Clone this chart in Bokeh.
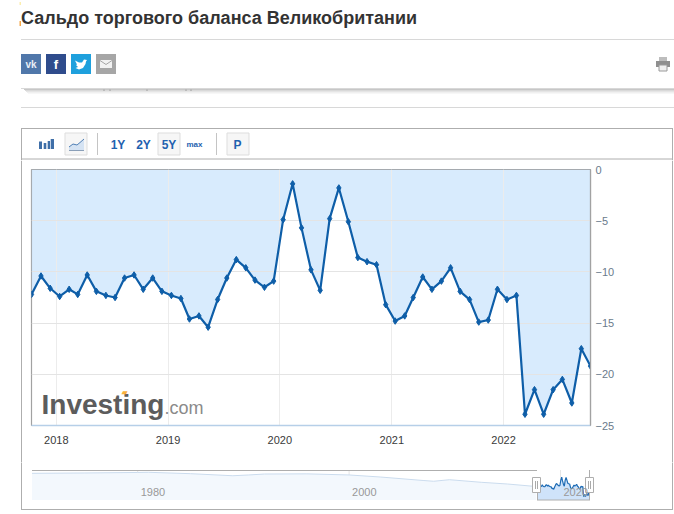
from datetime import datetime
from bokeh.plotting import figure
from bokeh.layouts import column, row
from bokeh.embed import file_html
from bokeh.resources import INLINE
from bokeh.core.properties import value
from bokeh.models import Range1d, FixedTicker, DatetimeTickFormatter, Label

# ---------- data ----------
TITLE = "Сальдо торгового баланса Великобритании"
balance = [
    -12.2, -10.4, -11.6, -12.4, -11.7, -12.2, -10.3, -11.9, -12.3, -12.5, -10.6, -10.3,
    -11.7, -10.6, -11.9, -12.3, -12.6, -14.6, -14.3, -15.4, -12.7, -10.6, -8.8, -9.6,
    -10.8, -11.5, -10.9, -4.9, -1.4, -5.7, -9.8, -11.8, -4.8, -1.8, -5.1, -8.6,
    -9.0, -9.3, -13.2, -14.8, -14.3, -12.5, -10.5, -11.7, -10.9, -9.6, -11.9, -12.7,
    -14.9, -14.7, -11.7, -12.7, -12.3, -23.9, -21.5, -23.9, -21.5, -20.5, -22.8, -17.5, -19.2,
]
first_year, first_month = 2017, 10
dates = [datetime(first_year + (first_month - 1 + i) // 12, (first_month - 1 + i) % 12 + 1, 12)
         for i in range(len(balance))]
x_tick_years = [2018, 2019, 2020, 2021, 2022]
y_ticks = [0, -5, -10, -15, -20, -25]

history_years = [1970, 1975, 1980, 1981, 1985, 1989, 1990.5, 1992, 1996, 2000, 2003, 2007, 2008, 2009.5, 2012.5, 2015, 2017.7]
history_values = [3.1, 3.5, 4.1, 4.3, 2.7, 0.3, 1.2, 2.3, 2.5, 1.2, -1.2, -5.2, -6.1, -4.3, -7.3, -9.3, -12.2]
nav_tick_years = [1980, 2000, 2020]

FONT = value("Liberation Sans")
BLUE = "#1f62b0"
GREY = "#aeaeae"

# ---------- header: x/y ranges are page pixels ----------
head = figure(width=674, height=160, x_range=Range1d(0.5, 674.5), y_range=Range1d(160.5, 0.5), frame_align=False,
              output_backend="svg", toolbar_location=None, min_border=0, outline_line_color=None)
head.axis.visible = False
head.grid.visible = False

head.text([21], [17.5], text=[TITLE], text_font=FONT, text_font_size="18px", text_font_style="bold",
          text_color="#333333", text_baseline="alphabetic", text_align="left")
head.quad(left=[19.5], right=[21], top=[21], bottom=[26], fill_color="#f5a84a", line_color=None)
head.quad(left=[19.5], right=[21], top=[2], bottom=[5], fill_color="#fbeeb0", line_color=None)

for y in (39.5, 88.5, 107.5):
    head.segment(21, y, 675, y, line_color="#d8d8d8", line_width=1)
for i, a in enumerate((0.22, 0.15, 0.10, 0.06, 0.03)):
    head.segment(24 + i, 89.5 + i, 675, 89.5 + i, line_color="#000000", line_alpha=a, line_width=1)
head.quad(left=[103, 109, 146, 185, 190], right=[105, 111, 148, 187, 192], top=[89] * 5, bottom=[91] * 5,
          fill_color="#bbbbbb", line_color=None)

# share buttons
btn_x = [21, 46, 71, 96]
btn_c = ["#5077aa", "#2f4c8c", "#1ea0dd", "#a6a6a6"]
head.quad(left=btn_x, right=[v + 20 for v in btn_x], top=[54] * 4, bottom=[74] * 4,
          fill_color=btn_c, line_color=None)
head.text([31], [64], text=["vk"], text_font=FONT, text_font_size="10px", text_font_style="bold",
          text_color="#e8eef6", text_align="center", text_baseline="middle")
head.text([56], [64], text=["f"], text_font=FONT, text_font_size="13px", text_font_style="bold",
          text_color="#ffffff", text_align="center", text_baseline="middle")
head.patch([75, 79, 82, 84, 87, 86, 85.5, 83, 79, 75.5, 78, 76, 77],
           [60.5, 62.5, 62.5, 59.5, 60, 61.5, 64, 68, 69.5, 68, 67, 65, 64.5],
           fill_color="#ffffff", line_color=None)
head.quad(left=[100], right=[112], top=[60], bottom=[68], fill_color="#f2f2f2", line_color=None)
head.line([100, 106, 112], [60.5, 64.5, 60.5], line_color="#a6a6a6", line_width=1)

# print icon
head.quad(left=[659], right=[667], top=[57], bottom=[61], fill_color="#bdbdbd", line_color=None)
head.quad(left=[656], right=[670], top=[61], bottom=[67], fill_color="#8f8f8f", line_color=None)
head.quad(left=[659], right=[667], top=[65], bottom=[71], fill_color="#f0f0f0", line_color="#9a9a9a", line_width=1)

# chart box and toolbar
head.segment(21, 128.5, 673, 128.5, line_color=GREY, line_width=1)
head.segment(21.5, 128, 21.5, 161, line_color=GREY, line_width=1)
head.segment(672.5, 128, 672.5, 161, line_color=GREY, line_width=1)
head.segment(21, 159, 673, 159, line_color=GREY, line_width=1)
head.quad(left=[65, 158, 227], right=[87, 180, 249], top=[133] * 3, bottom=[155] * 3,
          fill_color="#f6f6f6", line_color="#dddddd", line_width=1)
head.segment([97.5, 216.5], [133, 133], [97.5, 216.5], [155, 155], line_color="#c4c4c4", line_width=1)
head.quad(left=[39, 43.7, 47.7, 50.7], right=[42, 46.3, 50, 54], top=[141.5, 143, 141, 139], bottom=[149] * 4,
          fill_color="#3f6fa8", line_color=None)
head.patch([69, 73, 77, 80, 84, 84, 69], [147, 144, 145, 142.5, 139, 150, 150], fill_color="#d5e3f3", line_color=None)
head.line([69, 73, 77, 80, 84], [147, 144, 145, 142.5, 139], line_color="#4f7fb5", line_width=1)
head.segment(69, 150.5, 84, 150.5, line_color="#8a9fb8", line_width=1)
head.text([118, 143.5, 169, 237.5], [144.5] * 4, text=["1Y", "2Y", "5Y", "P"], text_font=FONT,
          text_font_size="12px", text_font_style="bold", text_color=BLUE, text_align="center",
          text_baseline="middle")
head.text([194.5], [144.5], text=["max"], text_font=FONT, text_font_size="8px", text_font_style="bold",
          text_color=BLUE, text_align="center", text_baseline="middle")

# ---------- main chart ----------
p = figure(width=648, height=302, x_axis_type="datetime", y_axis_location="right", frame_align=False,
           x_range=Range1d(dates[0], dates[-1]), y_range=Range1d(-25, 0),
           output_backend="svg", toolbar_location=None,
           min_border_left=9, min_border_right=80, min_border_top=9, min_border_bottom=37,
           outline_line_color="#a2a2a2", outline_line_width=1.2, background_fill_color="#ffffff")
p.varea(x=dates, y1=[0] * len(dates), y2=balance, fill_color="#bcdcfb", fill_alpha=0.58, level="image")
p.line(dates, balance, line_color="#0e5ea8", line_width=2.2)
p.scatter(dates, balance, marker="diamond", size=6.5, fill_color="#0e5ea8", line_color="#0e5ea8")

p.xgrid.grid_line_color = "#ececec"
p.ygrid.grid_line_color = "#e4e4e4"
p.ygrid.ticker = FixedTicker(ticks=y_ticks)
year_ms = [datetime(y, 1, 1).timestamp() * 1000 for y in x_tick_years]
p.xaxis.ticker = FixedTicker(ticks=year_ms)
p.xgrid.ticker = FixedTicker(ticks=year_ms)
p.xaxis.formatter = DatetimeTickFormatter(years="%Y", months="%Y", days="%Y", hours="%Y", minutes="%Y",
                                          hourmin="%Y", seconds="%Y", milliseconds="%Y", microseconds="%Y")
p.yaxis.ticker = FixedTicker(ticks=y_ticks)
for ax in (p.xaxis, p.yaxis):
    ax.major_tick_in = 0
    ax.major_tick_out = 0
    ax.minor_tick_in = 0
    ax.minor_tick_out = 0
    ax.major_tick_line_color = None
    ax.minor_tick_line_color = None
    ax.major_label_text_font = "Liberation Sans"
    ax.major_label_text_font_size = "11px"
p.xaxis.axis_line_color = "#b6cfe8"
p.xaxis.axis_line_width = 1.5
p.xaxis.major_label_text_color = "#3a3a3a"
p.xaxis.major_label_standoff = 10
p.yaxis.axis_line_color = "#a2a2a2"
p.yaxis.axis_line_width = 1.2
p.yaxis.major_label_text_color = "#6a7b8c"
p.yaxis.major_label_standoff = 5

def val_main(px):
    return -(px - 169) / 10.24

p.add_layout(Label(x=10, y=val_main(404), x_units="screen", text="Investing", text_font="Liberation Sans",
                   text_font_size="28px", text_font_style="bold", text_color="#5c5c5c",
                   text_baseline="alphabetic"))
p.add_layout(Label(x=133, y=val_main(407), x_units="screen", text=".com", text_font="Liberation Sans",
                   text_font_size="18px", text_color="#8a8a8a", text_baseline="alphabetic"))
p.add_layout(Label(x=90, y=val_main(392), x_units="screen", text="▰", text_font="DejaVu Sans",
                   text_font_size="8px", text_color="#fbb03b", text_baseline="alphabetic"))

def strip(width, x0, x1, line_x):
    s = figure(width=width, height=302, x_range=Range1d(x0, x1), y_range=Range1d(462, 160), frame_align=False,
               output_backend="svg", toolbar_location=None, min_border=0, outline_line_color=None)
    s.axis.visible = False
    s.grid.visible = False
    s.segment(line_x, 160, line_x, 462, line_color=GREY, line_width=1)
    return s

left_strip = strip(22, 0.5, 22.5, 21.5)
right_strip = strip(4, 670.5, 674.5, 672.5)
middle = row(left_strip, p, right_strip, spacing=0)

# ---------- navigator: default ranges are page pixels, series use extra ranges ----------
def yr_at(px):
    return 1970 + (px - 32) / 10.57

def val_at(px):
    return (476 - px) / 0.862

nav = figure(width=674, height=48, x_range=Range1d(0.5, 674.5), y_range=Range1d(510.5, 462.5), frame_align=False,
             output_backend="svg", toolbar_location=None, min_border=0, outline_line_color=None)
nav.axis.visible = False
nav.grid.visible = False
nav.extra_x_ranges = {"yr": Range1d(yr_at(0.5), yr_at(674.5))}
nav.extra_y_ranges = {"val": Range1d(val_at(510.5), val_at(462.5))}
sel_years = [d.year + (d.timetuple().tm_yday - 1) / 365.25 for d in dates]
floor = val_at(500)
kw = dict(x_range_name="yr", y_range_name="val")

nav.varea(x=history_years, y1=[floor] * len(history_years), y2=history_values, fill_color="#f3f8fd", **kw)
nav.line(history_years, history_values, line_color="#cbdcee", line_width=1, **kw)
nav.varea(x=sel_years, y1=[floor] * len(sel_years), y2=balance, fill_color="#cfe3fa", **kw)
nav.line(sel_years, balance, line_color="#1f6cb5", line_width=1.2, **kw)
nav.segment(nav_tick_years, [val_at(470)] * 3, nav_tick_years, [val_at(480)] * 3, line_color="#e6e6e6", line_width=1, level="underlay", **kw)

nav.segment(32, 470.5, 537, 470.5, line_color=GREY, line_width=1)
nav.segment(589.5, 470, 589.5, 478, line_color=GREY, line_width=1)
nav.segment(537, 500, 590, 500, line_color=GREY, line_width=1)
nav.segment(537.5, 492, 537.5, 500, line_color=GREY, line_width=1)
nav.segment(589.5, 492, 589.5, 500, line_color=GREY, line_width=1)

nav.quad(left=[532.5, 585.5], right=[540.5, 593.5], top=[477.5] * 2, bottom=[492.5] * 2,
         fill_color="#ffffff", line_color=GREY, line_width=1)
nav.segment([535.5, 537.5, 588.5, 590.5], [481] * 4, [535.5, 537.5, 588.5, 590.5], [489] * 4,
            line_color="#aaaaaa", line_width=1)

nav.text(nav_tick_years, [val_at(491.7)] * 3, text=[str(v) for v in nav_tick_years], text_font=FONT,
         text_font_size="11px", text_color="#999999", text_align="left", text_baseline="middle",
         x_offset=3, **kw)

nav.segment(21.5, 462, 21.5, 509.5, line_color=GREY, line_width=1)
nav.segment(672.5, 462, 672.5, 509.5, line_color=GREY, line_width=1)
nav.segment(21, 509.5, 673, 509.5, line_color=GREY, line_width=1)

page = column(head, middle, nav, spacing=0)
open("out.html", "w").write(file_html(page, INLINE))
